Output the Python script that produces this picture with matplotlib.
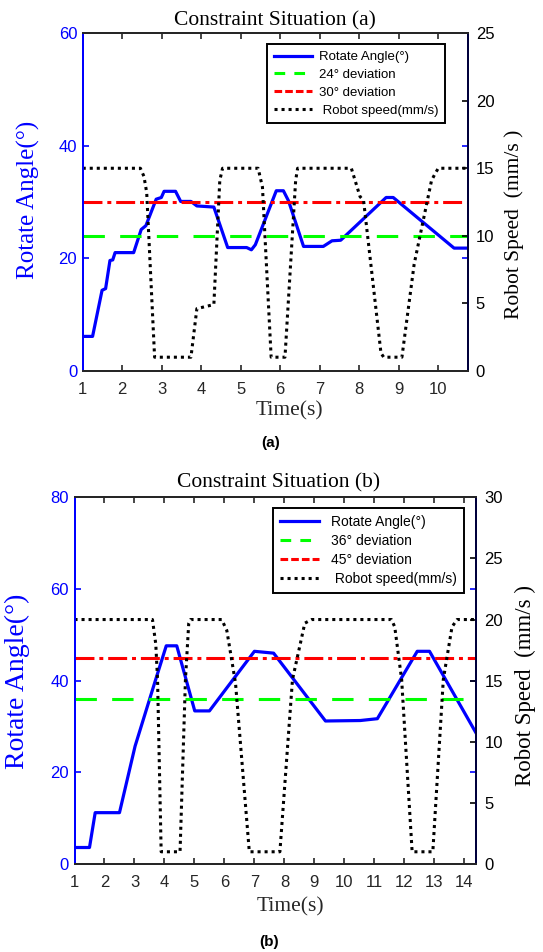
import matplotlib
matplotlib.use("Agg")
import matplotlib.pyplot as plt
from matplotlib.lines import Line2D

# panel (a): rotate angle and robot speed over time
t_a_angle = [1.0, 1.25, 1.49, 1.58, 1.69, 1.76, 1.82, 2.29, 2.48, 2.60, 2.86, 2.99,
             3.06, 3.35, 3.48, 3.74, 3.89, 4.32, 4.67, 5.15, 5.27, 5.37, 5.90, 6.08,
             6.21, 6.59, 7.09, 7.31, 7.53, 8.68, 8.86, 10.40, 10.74]
angle_a = [6.1, 6.1, 14.3, 14.6, 19.6, 19.7, 21.0, 21.0, 25.1, 25.8, 30.5, 30.8,
           31.9, 31.9, 30.1, 30.1, 29.3, 29.1, 21.9, 21.9, 21.5, 22.4, 32.0, 32.0,
           30.2, 22.1, 22.1, 23.1, 23.2, 30.8, 30.8, 21.8, 21.8]
t_a_speed = [1.0, 2.46, 2.55, 2.62, 2.82, 3.74, 3.89, 4.32, 4.47, 4.54, 5.44, 5.55,
             5.77, 6.12, 6.39, 6.44, 7.80, 8.02, 8.11, 8.55, 8.62, 9.08, 9.39, 9.83,
             9.92, 10.0, 10.74]
speed_a = [15, 15, 14.4, 13.2, 1, 1, 4.6, 4.9, 14.1, 15, 15, 13.6,
           1, 1, 14.1, 15, 15, 12.9, 12.6, 1.3, 1, 1, 7.9, 14.1,
           14.6, 15, 15]
limits_a = (24, 30)

# panel (b)
t_b_angle = [1.0, 1.50, 1.69, 2.50, 3.02, 3.71, 4.06, 4.41, 5.01, 5.50, 7.00, 7.64,
             9.37, 10.53, 11.10, 12.43, 12.84, 14.39]
angle_b = [3.6, 3.6, 11.2, 11.2, 25.7, 40.3, 47.6, 47.6, 33.4, 33.4, 46.4, 46.0,
           31.2, 31.3, 31.7, 46.4, 46.4, 28.6]
t_b_speed = [1.0, 3.60, 3.71, 3.77, 3.89, 4.52, 4.70, 4.81, 4.87, 5.91, 6.08, 6.37,
             6.83, 7.85, 8.27, 8.68, 8.91, 11.57, 11.68, 11.91, 12.26, 12.95, 13.30,
             13.59, 13.76, 14.39]
speed_b = [20, 20, 18.0, 15.1, 1, 1, 15.1, 19.7, 20, 20, 19.1, 14.8,
           1, 1, 15.1, 19.7, 20, 20, 19.4, 15.1, 1, 1, 15.1,
           19.4, 20, 20]
limits_b = (36, 45)

W, H = 543, 952
SERIF = "Liberation Serif"
SANS = "Liberation Sans"
DARK = "#262626"

fig = plt.figure(figsize=(W / 100, H / 100), dpi=100)


def rect(x0, y0, x1, y1):
    return [x0 / W, 1 - y1 / H, (x1 - x0) / W, (y1 - y0) / H]


def txt(x, y, s, **kw):
    fig.text(x / W, 1 - y / H, s, ha="center", va="center", **kw)


def panel(box, t_ang, ang, t_spd, spd, lims, xmax, ymax, smax, sstep, leg_anchor, leg_kw):
    ax = fig.add_axes(rect(*box))
    ax2 = ax.twinx()

    ax.plot(t_ang, ang, color="blue", lw=2.3, solid_joinstyle="round")
    ax.axhline(lims[0], color="#00ff00", lw=2.2, dashes=(7, 5))
    ax.axhline(lims[1], color="#ff0000", lw=2.2, dashes=(6.2, 1.6, 1.3, 1.6))
    ax2.plot(t_spd, spd, color="black", lw=2.2, dashes=(1, 1.3))

    ax.set_xlim(1, xmax)
    ax.set_ylim(0, ymax)
    ax2.set_ylim(0, smax)
    ax.set_xticks(range(1, int(xmax) + 1))
    ax.set_yticks(range(0, ymax + 1, 20))
    ax2.set_yticks(range(0, smax + 1, sstep))

    ax.tick_params(axis="x", direction="in", length=4, width=1.2, top=True,
                   colors=DARK, labelsize=12, pad=8)
    ax.tick_params(axis="y", direction="in", length=4, width=1.2, right=True,
                   colors="blue", labelsize=12, pad=4)
    ax2.tick_params(axis="y", direction="in", length=4, width=1.2,
                    colors="black", labelsize=12, pad=6)
    for a in (ax, ax2):
        for lab in a.get_xticklabels() + a.get_yticklabels():
            lab.set_family(SANS)
        for sp in a.spines.values():
            sp.set_linewidth(1.4)
            sp.set_color(DARK)
        a.spines["left"].set_color("blue")
        a.spines["right"].set_color("#00003c")

    handles = [
        Line2D([], [], color="blue", lw=2.3),
        Line2D([], [], color="#00ff00", lw=2.2, dashes=(3.5, 3)),
        Line2D([], [], color="#ff0000", lw=2.2, dashes=(2.5, 1)),
        Line2D([], [], color="black", lw=2.2, dashes=(1, 1.3)),
    ]
    labels = ["Rotate Angle(°)", f"{lims[0]}° deviation", f"{lims[1]}° deviation",
              " Robot speed(mm/s)"]
    leg = ax2.legend(handles, labels, loc="upper right", bbox_to_anchor=leg_anchor,
                     borderaxespad=0, fancybox=False, framealpha=1,
                     edgecolor="black", **leg_kw)
    leg.get_frame().set_linewidth(1.4)
    return ax, ax2


# panel (a)
panel((82.7, 33.3, 467.5, 370.7), t_a_angle, angle_a, t_a_speed, speed_a,
      limits_a, 10.74, 60, 25, 5, (0.9415, 0.967),
      dict(handlelength=2.9, handletextpad=0.5, labelspacing=0.42, borderpad=0.5,
           prop={"family": SANS, "size": 9.5}))
txt(275, 21, "Constraint Situation (a)", family=SERIF, size=15.5)
txt(289, 411, "Time(s)", family=SERIF, size=15.5, color=DARK)
txt(28, 200, "Rotate Angle(°)", family=SERIF, size=18, color="blue", rotation=90)
txt(514, 224, "Robot Speed  (mm/s )", family=SERIF, size=15.5, rotation=90)
txt(271, 443, "(a)", family=SANS, size=11, weight="bold")

# panel (b)
panel((74.5, 497.3, 476, 864), t_b_angle, angle_b, t_b_speed, speed_b,
      limits_b, 14.39, 80, 30, 5, (0.970, 0.970),
      dict(handlelength=2.8, handletextpad=0.9, labelspacing=0.35, borderpad=0.5,
           prop={"family": SANS, "size": 10}))
txt(279, 483, "Constraint Situation (b)", family=SERIF, size=15.5)
txt(290, 907, "Time(s)", family=SERIF, size=15.5, color=DARK)
txt(17, 681, "Rotate Angle(°)", family=SERIF, size=20, color="blue", rotation=90)
txt(525, 685, "Robot Speed  (mm/s )", family=SERIF, size=16.5, rotation=90)
txt(269, 942, "(b)", family=SANS, size=11, weight="bold")

fig.savefig("out.png", dpi=100)
